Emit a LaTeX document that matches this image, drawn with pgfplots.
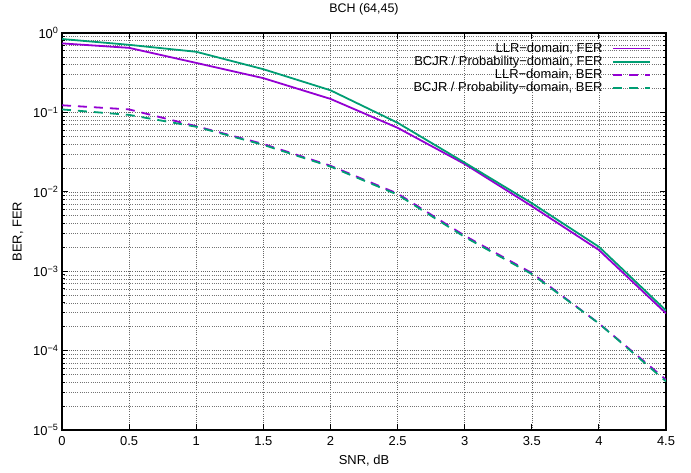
\documentclass[border=0pt]{standalone}
\usepackage{fontspec}
\setmainfont{Liberation Sans}
\usepackage{pgfplots}
\pgfplotsset{compat=1.18}
\definecolor{cpurple}{HTML}{9400D3}
\definecolor{cgreen}{HTML}{009E73}
\begin{document}
\begin{tikzpicture}
\begin{axis}[
  at={(0,0)}, anchor=south west,
  scale only axis, width=604bp, height=397bp,
  xmin=0, xmax=4.5, ymode=log, ymin=1e-5, ymax=1,
  xtick={0,0.5,1,1.5,2,2.5,3,3.5,4,4.5},
  xticklabels={0,0.5,1,1.5,2,2.5,3,3.5,4,4.5},
  ytick={1e-5,1e-4,1e-3,1e-2,1e-1,1},
  yticklabels={10\textsuperscript{−5},10\textsuperscript{−4},10\textsuperscript{−3},10\textsuperscript{−2},10\textsuperscript{−1},10\textsuperscript{0}},
  minor ytick={2e-5,3e-5,4e-5,5e-5,6e-5,7e-5,8e-5,9e-5,2e-4,3e-4,4e-4,5e-4,6e-4,7e-4,8e-4,9e-4,2e-3,3e-3,4e-3,5e-3,6e-3,7e-3,8e-3,9e-3,2e-2,3e-2,4e-2,5e-2,6e-2,7e-2,8e-2,9e-2,0.2,0.3,0.4,0.5,0.6,0.7,0.8,0.9},
  ymajorgrids, yminorgrids, xmajorgrids,
  major grid style={dash pattern=on 1bp off 1.2bp, black!60, line width=0.5bp},
  minor grid style={dash pattern=on 1bp off 1.2bp, black!55, line width=0.5bp},
  tick align=inside, major tick length=6bp, minor tick length=3bp,
  tick style={black, line width=0.8bp},
  axis line style={line width=1.1bp},
  tick label style={font=\fontsize{13}{15}\selectfont},
  x tick label style={yshift=-3bp},
  /pgf/number format/assume math mode=true,
  xlabel={SNR, dB}, ylabel={BER, FER}, title={BCH (64,45)},
  every axis title shift=0pt,
  label style={font=\fontsize{13}{15}\selectfont},
  title style={font=\fontsize{12.5}{14}\selectfont, at={(axis description cs:0.5,1.06)}, anchor=center},
  x label style={at={(axis description cs:0.5,-0.078)}, anchor=center},
  y label style={at={(axis description cs:-0.073,0.5)}, anchor=center},
  legend style={at={(axis description cs:0.981,0.985)}, anchor=north east, draw=none, fill=none,
    font=\fontsize{13}{13.5}\selectfont, row sep=-1.8bp, legend cell align=right},
  legend plot pos=right,
  legend image code/.code={\path (0bp,0bp); \draw[#1] (8bp,0bp) -- (45bp,0bp);},
]
\addplot[cpurple, line width=1.8bp] coordinates {(0,0.74) (0.5,0.65) (1,0.42) (1.5,0.27) (2,0.148) (2.5,0.064) (3,0.0224) (3.5,0.0066) (4,0.00185) (4.5,0.000295)};
\addlegendentry{LLR−domain, FER}
\addplot[cgreen, line width=1.8bp] coordinates {(0,0.84) (0.5,0.71) (1,0.58) (1.5,0.35) (2,0.19) (2.5,0.074) (3,0.0233) (3.5,0.0072) (4,0.00203) (4.5,0.00032)};
\addlegendentry{BCJR / Probability−domain, FER}
\addplot[cpurple, line width=1.8bp, dash pattern=on 9bp off 7bp] coordinates {(0,0.123) (0.5,0.109) (1,0.067) (1.5,0.040) (2,0.0213) (2.5,0.0095) (3,0.0028) (3.5,0.00095) (4,0.00022) (4.5,0.000043)};
\addlegendentry{LLR−domain, BER}
\addplot[cgreen, line width=1.8bp, dash pattern=on 9bp off 7bp] coordinates {(0,0.109) (0.5,0.093) (1,0.066) (1.5,0.039) (2,0.0208) (2.5,0.0092) (3,0.0027) (3.5,0.00092) (4,0.00022) (4.5,0.000041)};
\addlegendentry{BCJR / Probability−domain, BER}
\end{axis}
\pgfresetboundingbox
\useasboundingbox (-62bp,-43bp) rectangle (629bp,430bp);
\end{tikzpicture}
\end{document}
